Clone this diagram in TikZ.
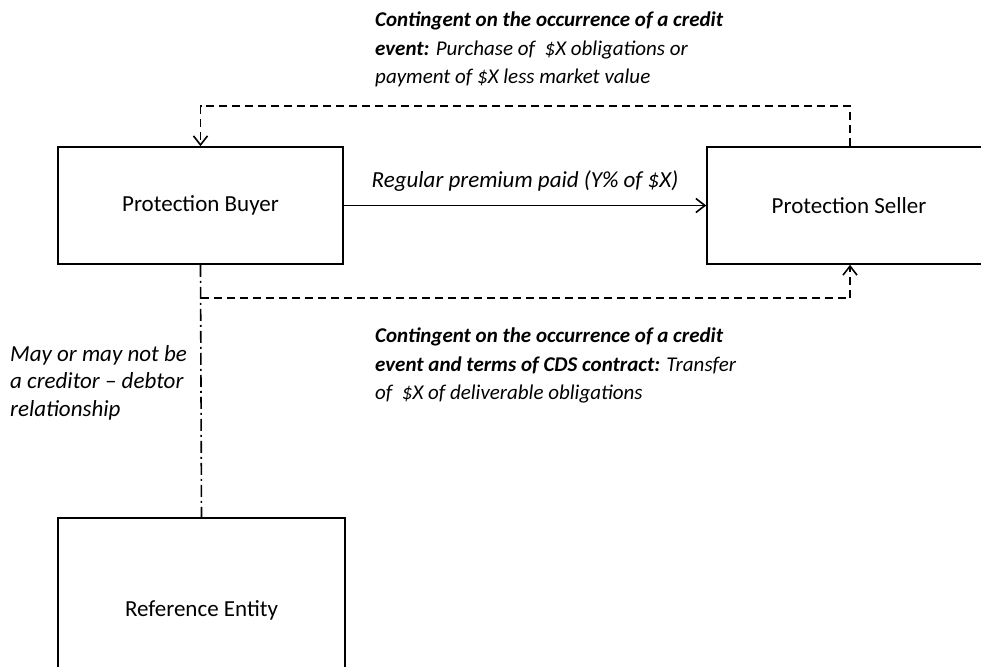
\documentclass[tikz,border=0pt]{standalone}
\usepackage{fontspec}
\setmainfont{Carlito}
\usetikzlibrary{arrows.meta}
\begin{document}
\begin{tikzpicture}[x=1pt,y=-1pt,
  box/.style={draw,line width=1.6pt,inner sep=0pt,font=\fontsize{23}{28}\selectfont},
  lbl/.style={inner sep=0pt,align=left,font=\fontsize{21}{28.5}\selectfont\itshape},
  sidelbl/.style={inner sep=0pt,align=left,font=\fontsize{23}{27.5}\selectfont\itshape},
  conn/.style={line width=1.6pt},
  dashline/.style={conn,dash pattern=on 8pt off 5pt},
  dashdotline/.style={conn,dash pattern=on 12pt off 4pt on 2pt off 4pt},
  tip/.style={-{Straight Barb[length=9pt,width=14pt,line width=1.6pt]}}]
\useasboundingbox (0,0) rectangle (981,666);
\node[box,minimum width=285pt,minimum height=117pt] (buyer) at (200.5,205.5) {Protection Buyer};
\node[box,minimum width=340pt,minimum height=117pt,
  label={[font=\fontsize{23}{28}\selectfont,xshift=-28pt]center:Protection Seller}] (seller) at (877,205.5) {};
\node[box,minimum width=287pt,minimum height=184pt] (ref) at (201.5,610) {Reference Entity};
\coordinate (junc) at (200.5,298);
\draw[conn,tip] (buyer.east) -- node[above=10pt,font=\fontsize{23}{28}\selectfont\itshape] (prem) {Regular premium paid (Y\% of \$X)} (seller.west);
\draw[dashline,tip] ([xshift=-27pt]seller.north) -- ++(0,-40) -| (buyer.north);
\draw[dashline,tip] (junc) -| ([xshift=-27pt]seller.south);
\draw[dashdotline] (buyer.south) -- (ref.north);
\node[lbl,anchor=north west] (top) at (375,12) {\textbf{Contingent on the occurrence of a credit}\\\textbf{event:} Purchase of\ \ \$X obligations or\\payment of \$X less market value};
\node[lbl,anchor=north west] (bot) at (375,328) {\textbf{Contingent on the occurrence of a credit}\\\textbf{event and terms of CDS contract:} Transfer\\of\ \ \$X of deliverable obligations};
\node[sidelbl,anchor=north west] (left) at (10,345) {May or may not be\\a creditor -- debtor\\relationship};
\end{tikzpicture}
\end{document}
